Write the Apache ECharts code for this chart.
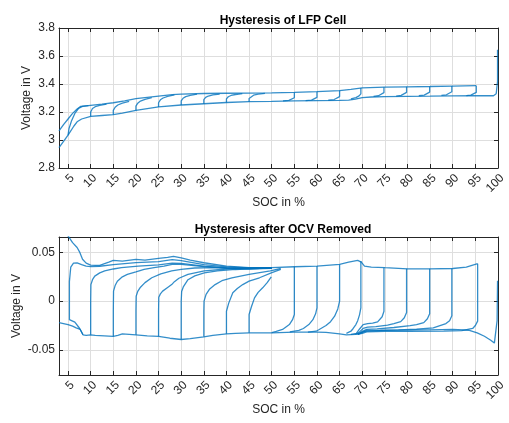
<!DOCTYPE html>
<html>
<head>
<meta charset="utf-8">
<script src="https://cdn.jsdelivr.net/npm/echarts@6/dist/echarts.min.js"></script>
<style>
html,body{margin:0;padding:0;background:#fff;}
#c{width:509px;height:423px;}
</style>
</head>
<body>
<div id="c"></div>
<script>
// ===== Top plot: terminal voltage (V) vs SOC (%) =====
const topChargeMain = [[3,3.065],[4,3.11],[5,3.15],[6,3.19],[7,3.222],[7.8,3.24],[10,3.248],[12.5,3.256],[15,3.266],[17.5,3.28],[20,3.295],[22.5,3.305],[25,3.314],[28,3.324],[30,3.328],[35,3.332],[40,3.334],[45,3.335],[50,3.337],[55,3.34],[60,3.345],[65,3.353],[67.5,3.362],[70,3.372],[75,3.377],[80,3.38],[85,3.382],[90,3.385],[95.2,3.388]];
const topDischargeMain = [[99.9,3.645],[99.9,3.42],[99.6,3.33],[99,3.316],[95,3.316],[90,3.315],[85,3.313],[80,3.312],[75,3.31],[72,3.307],[70,3.303],[68.5,3.292],[67,3.285],[65,3.283],[60,3.281],[55,3.279],[50,3.276],[45,3.274],[40,3.268],[35,3.259],[30,3.25],[25,3.236],[20,3.211],[17,3.192],[15,3.181],[12.5,3.175],[10,3.169],[8,3.15],[7,3.13],[6.3,3.1],[5,3.035],[4,2.99],[3,2.945]];
const topChargeHooks = [
  [[5,3.035],[5.2,3.08],[5.8,3.14],[6.5,3.19],[7.3,3.225],[8.2,3.24],[9.5,3.246]],
  [[10,3.169],[10,3.2],[10.4,3.225],[11,3.238],[12,3.248],[13.5,3.257]],
  [[15,3.181],[15,3.212],[15.4,3.234],[16,3.25],[17,3.263],[18.5,3.276]],
  [[20,3.211],[20,3.242],[20.4,3.263],[21,3.278],[22,3.29],[23.5,3.302]],
  [[25,3.236],[25,3.266],[25.4,3.287],[26,3.3],[27,3.311],[28.5,3.322]],
  [[30,3.25],[30,3.28],[30.4,3.298],[31,3.31],[32,3.319],[33.5,3.327]],
  [[35,3.259],[35,3.288],[35.4,3.304],[36,3.314],[37,3.322],[38.5,3.328]],
  [[40,3.268],[40,3.294],[40.4,3.309],[41,3.318],[42,3.325],[43.5,3.331]],
  [[45,3.274],[45,3.297],[45.4,3.311],[46,3.32],[47,3.327],[48.5,3.333]]
];
const topDischargeHooks = [
  [[55,3.34],[55,3.302],[54.6,3.29],[53.8,3.283],[52.5,3.279]],
  [[60,3.345],[60,3.305],[59.6,3.292],[58.8,3.285],[57.5,3.281]],
  [[65,3.353],[65,3.31],[64.6,3.297],[63.8,3.289],[62.5,3.284]],
  [[69.7,3.371],[69.7,3.33],[69.3,3.315],[68.6,3.303],[67.5,3.294]],
  [[74.8,3.377],[74.8,3.338],[74.4,3.325],[73.6,3.316],[72.5,3.311]],
  [[79.8,3.38],[79.8,3.34],[79.4,3.328],[78.6,3.319],[77.5,3.314]],
  [[84.9,3.382],[84.9,3.342],[84.5,3.33],[83.7,3.321],[82.5,3.316]],
  [[89.8,3.385],[89.8,3.345],[89.4,3.333],[88.6,3.323],[87.5,3.318]],
  [[95.2,3.388],[95.2,3.34],[94.8,3.328],[94,3.32],[93,3.317]]
];

// ===== Bottom plot: hysteresis voltage after OCV removed (V) vs SOC (%) =====
const botChargeMain = [[3,0.10],[4,0.085],[5,0.067],[6,0.06],[7,0.055],[7.6,0.05],[8.2,0.043],[9,0.039],[10,0.037],[12,0.0366],[14,0.04],[15,0.0418],[17,0.041],[20,0.0428],[22,0.042],[25,0.0438],[27,0.045],[28.3,0.046],[30,0.0445],[32,0.042],[35,0.0394],[40,0.036],[45,0.0345],[50,0.0343],[55,0.0353],[60,0.036],[65,0.0377],[67,0.04],[69,0.0418],[69.8,0.04],[70.5,0.036],[72,0.035],[75,0.0343],[80,0.0332],[85,0.0332],[90,0.0335],[93,0.035],[95.5,0.0384]];
const botDischargeMain = [[99.9,0.021],[99.8,-0.02],[99.2,-0.043],[98.4,-0.04],[97,-0.036],[95.4,-0.0325],[93.5,-0.0298],[90,-0.029],[85,-0.0294],[80,-0.0297],[75,-0.03],[70.5,-0.031],[69.5,-0.033],[68.5,-0.034],[66.5,-0.0345],[65,-0.0335],[62,-0.032],[60,-0.0318],[55,-0.0318],[50,-0.0325],[45,-0.0325],[42,-0.033],[40,-0.0335],[37,-0.035],[35,-0.0366],[32,-0.0385],[30,-0.0393],[27.5,-0.038],[25,-0.036],[22.5,-0.0355],[20,-0.0345],[18.5,-0.034],[17,-0.0335],[16,-0.035],[15,-0.036],[13,-0.0355],[11,-0.035],[10,-0.0345],[9,-0.035],[8.3,-0.0345],[7.7,-0.029],[6.8,-0.0273],[6,-0.0255],[5,-0.024],[4,-0.023],[3,-0.022]];
const botChargeFrom5 = [[8.3,-0.0345],[7.5,-0.0275],[6.5,-0.0215],[5.3,-0.019],[5.3,0.02],[5.6,0.035],[6.2,0.039],[7,0.0392],[8,0.0375],[9,0.036],[10,0.0355],[12,0.0358],[15,0.0375],[20,0.0395],[25,0.0405],[28,0.0425],[30,0.0415],[35,0.0375],[40,0.0352],[45,0.034],[50,0.034]];
const botPartialCharges = [
  [[10,-0.0345],[10,0.0],[10.05,0.017],[10.4,0.022],[10.9,0.0257],[12,0.029],[13.1,0.031],[15,0.033],[16.8,0.0343],[20.5,0.036],[25,0.0372],[28,0.039],[30,0.0388],[35,0.036],[40,0.0342],[45,0.0335],[50,0.034]],
  [[15,-0.036],[15,-0.01],[15.05,0.0103],[15.4,0.016],[15.9,0.0205],[17,0.025],[18.1,0.0274],[20,0.03],[21.8,0.0325],[24,0.0345],[26.2,0.036],[28,0.0378],[30,0.0378],[35,0.0355],[40,0.034],[45,0.0332],[50,0.0336]],
  [[20,-0.0345],[20,-0.01],[20.05,0.005],[20.4,0.01],[20.9,0.0137],[22,0.019],[23.5,0.024],[25.5,0.028],[27.9,0.031],[30,0.0325],[33,0.034],[37,0.0345],[42,0.0335],[50,0.0336]],
  [[25,-0.036],[25,-0.01],[25.05,0.004],[25.4,0.0075],[25.9,0.0103],[27,0.014],[27.9,0.017],[28.5,0.02],[29.5,0.0235],[31.5,0.0274],[35.1,0.031],[40,0.033],[45,0.0335],[50,0.0338]],
  [[30,-0.0393],[30,0.0],[30.1,0.01],[30.5,0.015],[31.5,0.022],[33,0.026],[35.1,0.029],[38,0.031],[42,0.0325],[46,0.0335],[50,0.034]],
  [[35,-0.0366],[35,-0.01],[35.05,0.0],[35.5,0.007],[36.3,0.0125],[37.5,0.017],[39,0.021],[41.2,0.024],[45,0.0274],[49.7,0.031],[52,0.0335]],
  [[40,-0.0335],[40,-0.0103],[40.5,-0.002],[41.4,0.0086],[42.4,0.013],[43.6,0.017],[45,0.0205],[47.3,0.024],[49.9,0.029],[52,0.0325]],
  [[45,-0.0325],[45,-0.0137],[45.5,-0.006],[46.2,0.0034],[47,0.009],[48,0.0137],[49,0.019],[49.9,0.025]]
];
const botPartialDischarges = [
  [[55,0.0353],[55,-0.0137],[54.6,-0.019],[53.9,-0.024],[53,-0.027],[52.4,-0.029],[51,-0.031],[50,-0.0322]],
  [[60,0.036],[60,-0.0068],[59.7,-0.013],[59.1,-0.019],[58.2,-0.024],[57,-0.028],[56,-0.03],[54,-0.0315]],
  [[65,0.0377],[65,0.0],[64.6,-0.008],[63.9,-0.0154],[63,-0.021],[62,-0.025],[60.5,-0.029],[59.8,-0.0308],[58,-0.0318]],
  [[69.7,0.0411],[69.7,-0.0068],[69.4,-0.014],[69,-0.02],[68.6,-0.024],[68,-0.028],[67.5,-0.0308],[66.5,-0.033]],
  [[74.8,0.0343],[74.8,-0.0103],[74.4,-0.016],[73.4,-0.0212],[72.3,-0.0225],[71.2,-0.023],[70.2,-0.024],[69.5,-0.028],[68.7,-0.033],[67.5,-0.034]],
  [[79.8,0.0332],[79.8,-0.0115],[79.3,-0.017],[78.5,-0.021],[77,-0.023],[75.6,-0.0246],[73,-0.026],[71.2,-0.0267],[70.2,-0.028],[69.3,-0.032],[68.5,-0.034]],
  [[84.9,0.0332],[84.9,-0.013],[84.4,-0.018],[83.6,-0.022],[82,-0.024],[80.6,-0.025],[77,-0.027],[73.3,-0.0284],[71,-0.029],[70,-0.031],[69,-0.034]],
  [[89.8,0.0335],[89.8,-0.015],[89.3,-0.02],[88.5,-0.023],[85.7,-0.0274],[82,-0.0288],[78,-0.0294],[74,-0.0298],[71,-0.03],[70,-0.032],[69,-0.034]],
  [[95.5,0.0384],[95.5,-0.0205],[95,-0.025],[94.4,-0.028],[92,-0.0303],[88,-0.0308],[80,-0.031],[75,-0.031],[71,-0.0315],[70,-0.033],[69,-0.034]]
];

const topTitle = 'Hysteresis of LFP Cell';
const botTitle = 'Hysteresis after OCV Removed';
const xName = 'SOC in %';
const yName = 'Voltage in V';

const AX = '#262626';
const GRIDC = '#dedede';
const LINEC = '#0072BD';
const FONT = 'Liberation Sans, Arial, Helvetica, sans-serif';

function lineSeries(data, idx) {
  return {
    type: 'line', data: data, xAxisIndex: idx, yAxisIndex: idx,
    showSymbol: false, symbol: 'none', silent: true, clip: true,
    lineStyle: { color: LINEC, width: 1.3, opacity: 0.8 },
    animation: false
  };
}

const series = [];
series.push(lineSeries(topChargeMain, 0));
series.push(lineSeries(topDischargeMain, 0));
topChargeHooks.forEach(h => series.push(lineSeries(h, 0)));
topDischargeHooks.forEach(h => series.push(lineSeries(h, 0)));
series.push(lineSeries(botChargeMain, 2));
series.push(lineSeries(botDischargeMain, 2));
series.push(lineSeries(botChargeFrom5, 2));
botPartialCharges.forEach(h => series.push(lineSeries(h, 2)));
botPartialDischarges.forEach(h => series.push(lineSeries(h, 2)));

function xAx(grid, pos, main) {
  return {
    type: 'value', gridIndex: grid, position: pos, min: 3, max: 100, splitNumber: 20,
    name: main ? xName : '', nameLocation: 'middle', nameGap: 29, nameMoveOverlap: false,
    nameTextStyle: { color: AX, fontSize: 12, fontFamily: FONT },
    axisLine: { show: true, onZero: false, lineStyle: { color: AX, width: 1 } },
    axisTick: { show: true, inside: true, length: 4, lineStyle: { color: AX } },
    axisLabel: { show: main, rotate: 45, margin: 4, verticalAlign: 'top', color: AX, fontSize: 12, fontFamily: FONT, showMinLabel: false },
    splitLine: { show: main, lineStyle: { color: GRIDC, width: 1 } }
  };
}
function yAx(grid, pos, main, lim) {
  const o = {
    type: 'value', gridIndex: grid, position: pos, min: lim[0], max: lim[1],
    name: main ? yName : '', nameLocation: 'middle', nameGap: lim[3], nameMoveOverlap: false,
    nameTextStyle: { color: AX, fontSize: 12, fontFamily: FONT },
    axisLine: { show: true, onZero: false, lineStyle: { color: AX, width: 1 } },
    axisTick: { show: true, inside: true, length: 4, lineStyle: { color: AX } },
    axisLabel: { show: main, margin: 4, color: AX, fontSize: 12, fontFamily: FONT, showMinLabel: lim[4], showMaxLabel: lim[4] },
    splitLine: { show: main, lineStyle: { color: GRIDC, width: 1 } }
  };
  if (lim[2].interval) o.interval = lim[2].interval; else o.splitNumber = lim[2].split;
  return o;
}

const topLim = [2.8, 3.8, { interval: 0.2 }, 26, true];
const botLim = [-0.0757, 0.0658, { split: 3 }, 36, false];

const option = {
  backgroundColor: '#fff',
  animation: false,
  title: [
    { text: topTitle, left: 278, top: 10, textAlign: 'center', textStyle: { fontSize: 12, fontWeight: 'bold', color: '#000', fontFamily: FONT } },
    { text: botTitle, left: 278, top: 219, textAlign: 'center', textStyle: { fontSize: 12, fontWeight: 'bold', color: '#000', fontFamily: FONT } }
  ],
  grid: [
    { left: 59, top: 28, width: 439, height: 140, show: false },
    { left: 59, top: 237, width: 439, height: 138, show: false }
  ],
  xAxis: [xAx(0, 'bottom', true), xAx(0, 'top', false), xAx(1, 'bottom', true), xAx(1, 'top', false)],
  yAxis: [yAx(0, 'left', true, topLim), yAx(0, 'right', false, topLim), yAx(1, 'left', true, botLim), yAx(1, 'right', false, botLim)],
  series: series
};

const chart = echarts.init(document.getElementById('c'), null, { renderer: 'canvas' });
chart.setOption(option);
</script>
</body>
</html>
